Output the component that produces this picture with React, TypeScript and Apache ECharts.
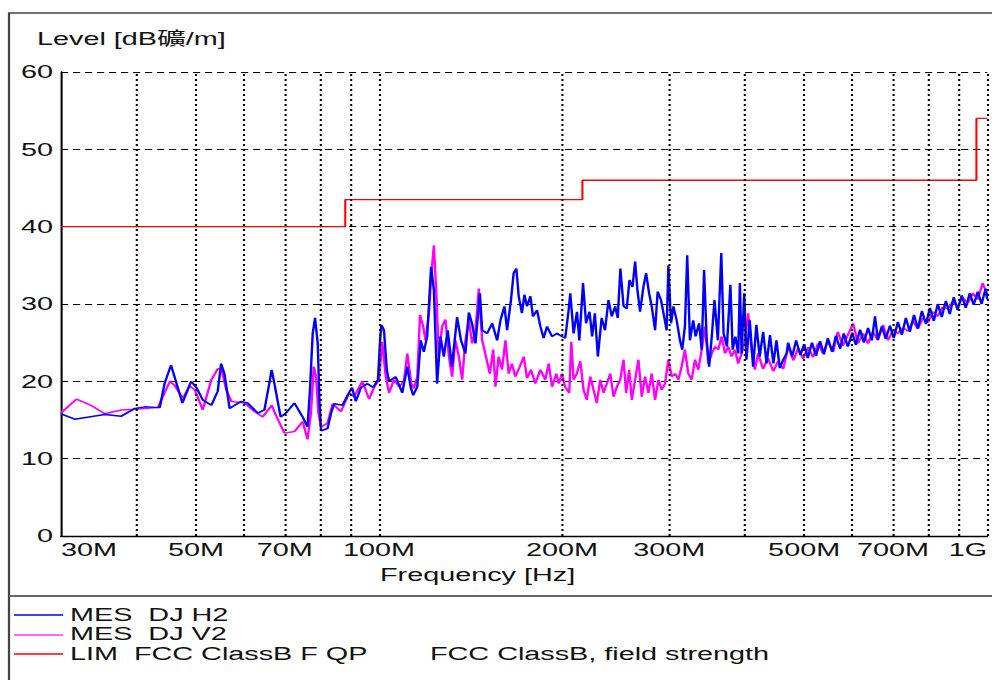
import React, { useEffect, useRef } from "react";
import * as echarts from "echarts";

// ---- data (frequency in MHz, level in dBµV/m) ----
const xTickValues = [30, 50, 70, 100, 200, 300, 500, 700, 1000];
const xTickLabels = ["30M", "50M", "70M", "100M", "200M", "300M", "500M", "700M", "1G"];
const xGridValues = [40, 50, 60, 70, 80, 90, 100, 200, 300, 400, 500, 600, 700, 800, 900, 1000];

const limFreq = [30, 88, 88, 216, 216, 960, 960, 1000];
const limLevel = [40, 40, 43.5, 43.5, 46, 46, 54, 54];

const h2Freq = [
  30, 31.6, 35.4, 37.7, 39.7, 41.2, 43.6, 44.4, 45.5, 46.1, 47.5, 49.1, 50.1, 51.3, 53.0, 54.3, 55.0, 55.7, 56.8, 59.3,
  60.8, 63.2, 64.8, 66.0, 66.6, 67.3, 68.9, 70.3, 72.6, 74.9, 76.3, 77.0, 77.8, 78.5, 79.3, 79.8, 80.3, 82.3, 83.4, 84.4,
  87.1, 88.8, 90.3, 91.6, 93.4, 95.7, 97.8, 99.6, 100.4, 100.9, 101.9, 103.0, 103.9, 106.5, 109.2, 111.3, 112.7, 113.8, 115.6, 117.1,
  118.5, 120.0, 121.8, 123.1, 124.6, 126.2, 127.8, 129.7, 131.8, 134.4, 136.4, 138.7, 140.5, 142.3, 144.1, 146.5, 147.8, 150.6, 153.5, 156.4,
  158.4, 160.8, 162.4, 164.8, 166.5, 168.2, 169.7, 171.8, 173.4, 175.1, 177.4, 179.1, 181.9, 184.2, 186.5, 188.9, 192.5, 196.2, 199.9, 202.4,
  205.0, 206.3, 208.9, 211.6, 213.5, 216.5, 219.0, 221.9, 224.1, 226.4, 229.0, 232.3, 235.3, 238.4, 241.4, 244.5, 246.9, 249.4, 252.4, 255.5,
  258.1, 261.1, 263.7, 266.0, 268.7, 272.1, 274.9, 278.0, 280.8, 284.4, 287.2, 290.9, 294.6, 297.1, 299.1, 302.1, 304.8, 308.6, 312.5, 315.2,
  318.4, 321.2, 324.5, 328.6, 331.5, 335.9, 339.3, 342.4, 345.8, 349.0, 352.5, 356.1, 360.7, 365.4, 368.6, 373.3, 378.2, 381.5, 385.4, 389.6,
  392.1, 394.6, 398.6, 401.9, 407.0, 412.2, 417.3, 422.6, 428.2, 433.8, 439.4, 445.1, 450.3, 456.0, 462.0, 467.9, 470.6, 478, 485, 493,
  500, 507, 515, 523, 531, 539, 547, 556, 564, 573, 581, 590, 600, 608, 618, 627, 637, 646, 654, 661,
  671, 681, 692, 702, 713, 724, 735, 746, 758, 769, 781, 793, 805, 817, 829, 842, 855, 868, 881, 894,
  908, 922, 936, 950, 965, 979, 994, 1000,
];
const h2Level = [
  15.8, 15.1, 15.7, 15.5, 16.5, 16.7, 16.6, 19.7, 22.1, 20.6, 17.2, 20.0, 19.2, 17.6, 16.9, 18.7, 22.3, 21.0, 16.5, 17.4,
  17.2, 15.9, 16.3, 19.7, 21.5, 19.7, 15.4, 15.9, 17.2, 15.4, 14.1, 18.9, 26.2, 28.2, 24.9, 17.6, 13.6, 13.9, 15.9, 17.1,
  16.9, 18.2, 19.2, 17.4, 19.2, 19.7, 19.2, 20.2, 25.3, 27.3, 26.6, 21.5, 20.0, 20.6, 18.5, 21.9, 19.3, 18.2, 19.3, 25.3,
  23.8, 25.8, 34.8, 31.8, 19.7, 25.8, 23.2, 26.6, 21.9, 28.3, 25.3, 23.6, 28.9, 27.4, 24.9, 31.4, 26.6, 26.2, 27.5, 25.3,
  27.9, 29.7, 26.6, 30.5, 34.0, 34.6, 31.0, 28.8, 31.2, 29.7, 31.0, 28.4, 29.2, 27.1, 25.6, 27.1, 25.8, 26.2, 25.8, 25.6,
  29.2, 31.4, 26.2, 29.0, 25.3, 32.7, 27.5, 29.0, 25.8, 28.8, 23.2, 28.2, 26.6, 30.5, 28.4, 29.7, 28.2, 34.6, 29.7, 29.4,
  33.1, 32.2, 35.5, 31.8, 29.0, 32.2, 34.0, 31.4, 29.7, 26.6, 31.6, 30.5, 28.2, 26.6, 35.0, 27.5, 29.7, 27.9, 25.3, 24.1,
  27.1, 36.3, 25.3, 27.9, 25.8, 27.5, 24.1, 34.4, 25.3, 21.9, 25.8, 30.5, 25.3, 36.6, 26.2, 24.5, 32.5, 24.1, 25.8, 23.6,
  32.7, 23.6, 31.4, 22.8, 27.9, 21.9, 27.3, 23.2, 26.4, 22.3, 26.0, 22.3, 25.3, 21.7, 22.8, 23.6, 25.0, 23.2, 25.3, 23.4,
  24.8, 23.0, 25.0, 23.3, 25.2, 23.5, 25.6, 23.8, 25.9, 24.2, 26.2, 24.5, 26.3, 24.7, 26.7, 25.0, 26.9, 25.3, 28.4, 25.4,
  27.1, 25.5, 27.2, 25.6, 27.7, 26.0, 28.2, 26.4, 28.6, 26.8, 29.1, 27.4, 29.5, 27.8, 30.0, 28.3, 30.4, 28.7, 30.9, 29.2,
  31.1, 29.5, 31.4, 29.9, 31.6, 30.0, 32.0, 30.6,
];

const v2Freq = [
  30, 31.8, 33.6, 35.4, 37.7, 39.7, 43.3, 44.1, 45.3, 46.1, 47.6, 48.8, 49.8, 51.3, 53.0, 54.3, 55.0, 56.1, 57.2, 60.1,
  62.4, 64.4, 66.6, 67.7, 69.9, 72.6, 74.9, 76.3, 77.3, 78.1, 78.8, 79.5, 80.3, 82.3, 83.9, 86.6, 89.3, 91.0, 93.9, 96.3,
  98.4, 100, 101.2, 102.6, 103.9, 105.8, 107.9, 109.9, 111.3, 113.0, 114.1, 115.6, 116.8, 118.2, 119.3, 120.8, 121.8, 123.1, 124.3, 125.4,
  127.0, 128.6, 130.3, 131.9, 133.5, 135.3, 137.0, 138.7, 140.5, 142.3, 144.1, 145.9, 147.8, 150.3, 152.1, 154.1, 155.4, 157.3, 159.3, 161.4,
  163.4, 165.4, 167.5, 170.4, 173.0, 175.1, 177.8, 180.7, 184.2, 187.6, 190.1, 192.5, 195.7, 197.4, 199.9, 202.2, 205.5, 207.1, 208.9, 211.5,
  214.3, 216.9, 219.6, 222.5, 225.3, 228.1, 231.1, 234.0, 236.9, 240.0, 243.0, 246.1, 249.2, 252.4, 254.9, 257.8, 260.4, 263.7, 267.0, 270.4,
  273.8, 277.3, 280.8, 284.4, 288.0, 291.6, 295.3, 299.1, 302.9, 306.8, 310.6, 314.5, 318.4, 322.5, 326.6, 330.8, 335.0, 339.3, 343.7, 347.9,
  352.5, 357.0, 361.3, 365.9, 370.6, 375.2, 380.0, 384.8, 389.6, 394.6, 399.6, 404.6, 409.7, 414.9, 420, 428, 436, 445, 453, 462,
  471, 480, 489, 498, 508, 517, 527, 537, 547, 558, 568, 579, 590, 602, 613, 625, 637, 649, 661, 674,
  687, 700, 713, 727, 741, 755, 769, 784, 799, 814, 829, 845, 861, 878, 894, 912, 929, 947, 965, 983,
  1000,
];
const v2Level = [
  15.9, 17.7, 16.9, 15.8, 16.3, 16.4, 16.6, 18.0, 20.0, 19.5, 17.8, 19.4, 18.9, 16.3, 20.2, 21.6, 21.7, 18.9, 17.4, 17.2,
  16.1, 15.4, 16.9, 15.6, 13.3, 13.5, 14.8, 12.5, 15.9, 21.9, 20.6, 15.9, 14.1, 14.6, 17.1, 16.1, 18.5, 18.0, 20.0, 17.7,
  19.4, 20.2, 25.1, 20.6, 18.5, 20.2, 19.3, 20.0, 23.6, 19.7, 19.1, 20.6, 28.6, 27.1, 25.3, 28.8, 33.5, 37.6, 31.0, 23.2,
  27.1, 28.0, 23.2, 20.6, 25.3, 23.2, 20.2, 25.3, 27.9, 24.9, 26.6, 32.0, 25.3, 22.8, 21.0, 24.1, 19.3, 23.2, 21.5, 25.3,
  21.0, 22.3, 20.6, 21.9, 23.2, 20.4, 21.5, 19.7, 21.5, 20.2, 22.3, 19.3, 21.0, 19.7, 21.0, 19.3, 18.5, 25.1, 20.2, 21.0,
  22.6, 18.9, 17.6, 20.6, 18.9, 17.2, 20.2, 18.5, 19.7, 21.0, 18.0, 19.3, 20.2, 22.8, 18.5, 21.5, 17.6, 20.2, 22.8, 18.0,
  20.6, 18.5, 21.0, 17.6, 20.2, 18.9, 19.7, 22.8, 20.6, 21.0, 20.2, 21.9, 24.1, 21.0, 20.2, 22.8, 21.5, 24.1, 27.1, 22.3,
  23.6, 24.5, 24.1, 25.8, 23.6, 24.5, 23.2, 24.1, 22.3, 23.6, 25.3, 28.8, 24.1, 21.5, 23.6, 21.6, 23.0, 21.3, 22.6, 21.6,
  24.5, 22.7, 24.3, 22.9, 24.4, 23.1, 24.9, 23.6, 25.2, 23.8, 26.4, 24.6, 26.0, 27.5, 24.9, 26.2, 24.9, 26.4, 25.3, 27.3,
  25.3, 26.6, 26.2, 26.9, 26.5, 27.8, 26.8, 28.2, 27.6, 29.0, 28.4, 29.6, 29.4, 30.3, 29.7, 30.8, 30.1, 31.4, 30.6, 32.7,
  31.2,
];

// ---- layout (the reference is horizontally stretched by SX) ----
const SX = 1.6;
const FONT = "'Liberation Sans', Arial, 'Noto Sans CJK TC', sans-serif";

function zip(f: number[], v: number[]) {
  return f.map((x, i) => [x, v[i]]);
}

function tickLabel(v: number) {
  for (let i = 0; i < xTickValues.length; i++) {
    if (Math.abs(v - xTickValues[i]) / xTickValues[i] < 0.01) return xTickLabels[i];
  }
  return "";
}

export default function App() {
  const ref = useRef<HTMLDivElement>(null);
  useEffect(() => {
    const chart = echarts.init(ref.current!, null, { renderer: "svg" });
    const txt = (x: number, y: number, text: string) => ({
      type: "text",
      x: x / SX,
      y,
      silent: true,
      style: { text, fontSize: 18, fontFamily: FONT, fill: "#111", verticalAlign: "middle", align: "left" },
    });
    const legLine = (y: number, color: string) => ({
      type: "line",
      silent: true,
      shape: { x1: 14 / SX, y1: y, x2: 63 / SX, y2: y },
      style: { stroke: color, lineWidth: 1.3 },
    });
    const option: any = {
      animation: false,
      backgroundColor: "#fff",
      grid: { left: 61 / SX, top: 72, width: 929 / SX, height: 464, containLabel: false },
      xAxis: {
        type: "log",
        logBase: 10,
        min: 30,
        max: 1000,
        axisLine: { show: true, onZero: false, lineStyle: { color: "#000", width: 1.4 } },
        axisTick: { show: false },
        splitLine: { show: false },
        minorSplitLine: { show: false },
        axisLabel: {
          customValues: xTickValues,
          formatter: (v: number) => tickLabel(v),
          fontSize: 18,
          fontFamily: FONT,
          color: "#111",
          margin: 14,
          verticalAlign: "middle",
          alignMinLabel: "left",
          alignMaxLabel: "right",
          showMinLabel: true,
          showMaxLabel: true,
          hideOverlap: false,
        },
      },
      yAxis: {
        type: "value",
        min: 0,
        max: 60,
        interval: 10,
        axisLine: { show: true, lineStyle: { color: "#000", width: 1.3 } },
        axisTick: { show: false },
        splitLine: { show: true, lineStyle: { color: "#000", type: [4.5, 3], width: 1.2 } },
        axisLabel: { fontSize: 18, fontFamily: FONT, color: "#111", margin: 5 },
      },
      graphic: [
        {
          type: "rect",
          silent: true,
          shape: { x: 9 / SX, y: 13, width: 700, height: 700 },
          style: { fill: "none", stroke: "#444", lineWidth: 1.4 },
        },
        {
          type: "line",
          silent: true,
          shape: { x1: 9 / SX, y1: 596, x2: 700, y2: 596 },
          style: { stroke: "#666", lineWidth: 2 },
        },
        txt(37, 39, "Level [dB礦/m]"),
        txt(380, 575, "Frequency [Hz]"),
        legLine(615, "#0000ff"),
        legLine(635, "#ff33ff"),
        legLine(654, "#ff0000"),
        txt(70, 614.5, "MES  DJ H2"),
        txt(70, 634, "MES  DJ V2"),
        txt(70, 653.5, "LIM  FCC ClassB F QP"),
        txt(430, 653.5, "FCC ClassB, field strength"),
      ],
      series: [
        {
          name: "LIM  FCC ClassB F QP",
          type: "line",
          data: zip(limFreq, limLevel),
          showSymbol: false,
          symbol: "none",
          lineStyle: { color: "#ff0000", width: 1.3 },
          silent: true,
          markLine: {
            silent: true,
            animation: false,
            symbol: ["none", "none"],
            label: { show: false },
            lineStyle: { color: "#000", type: [2, 3], width: 1.3 },
            emphasis: { disabled: true },
            data: xGridValues.map((v) => ({ xAxis: v })),
          },
        },
        {
          name: "MES  DJ V2",
          type: "line",
          data: zip(v2Freq, v2Level),
          showSymbol: false,
          symbol: "none",
          lineStyle: { color: "#ff00ff", width: 1.5 },
          silent: true,
        },
        {
          name: "MES  DJ H2",
          type: "line",
          data: zip(h2Freq, h2Level),
          showSymbol: false,
          symbol: "none",
          lineStyle: { color: "#0000ff", width: 1.5 },
          silent: true,
        },
      ],
    };
    chart.setOption(option);
    return () => chart.dispose();
  }, []);
  return (
    <div style={{ position: "fixed", left: 0, top: 0, width: 992, height: 680, overflow: "hidden", background: "#fff" }}>
      <div ref={ref} style={{ width: 620, height: 680, transform: "scaleX(1.6)", transformOrigin: "0 0" }} />
    </div>
  );
}
